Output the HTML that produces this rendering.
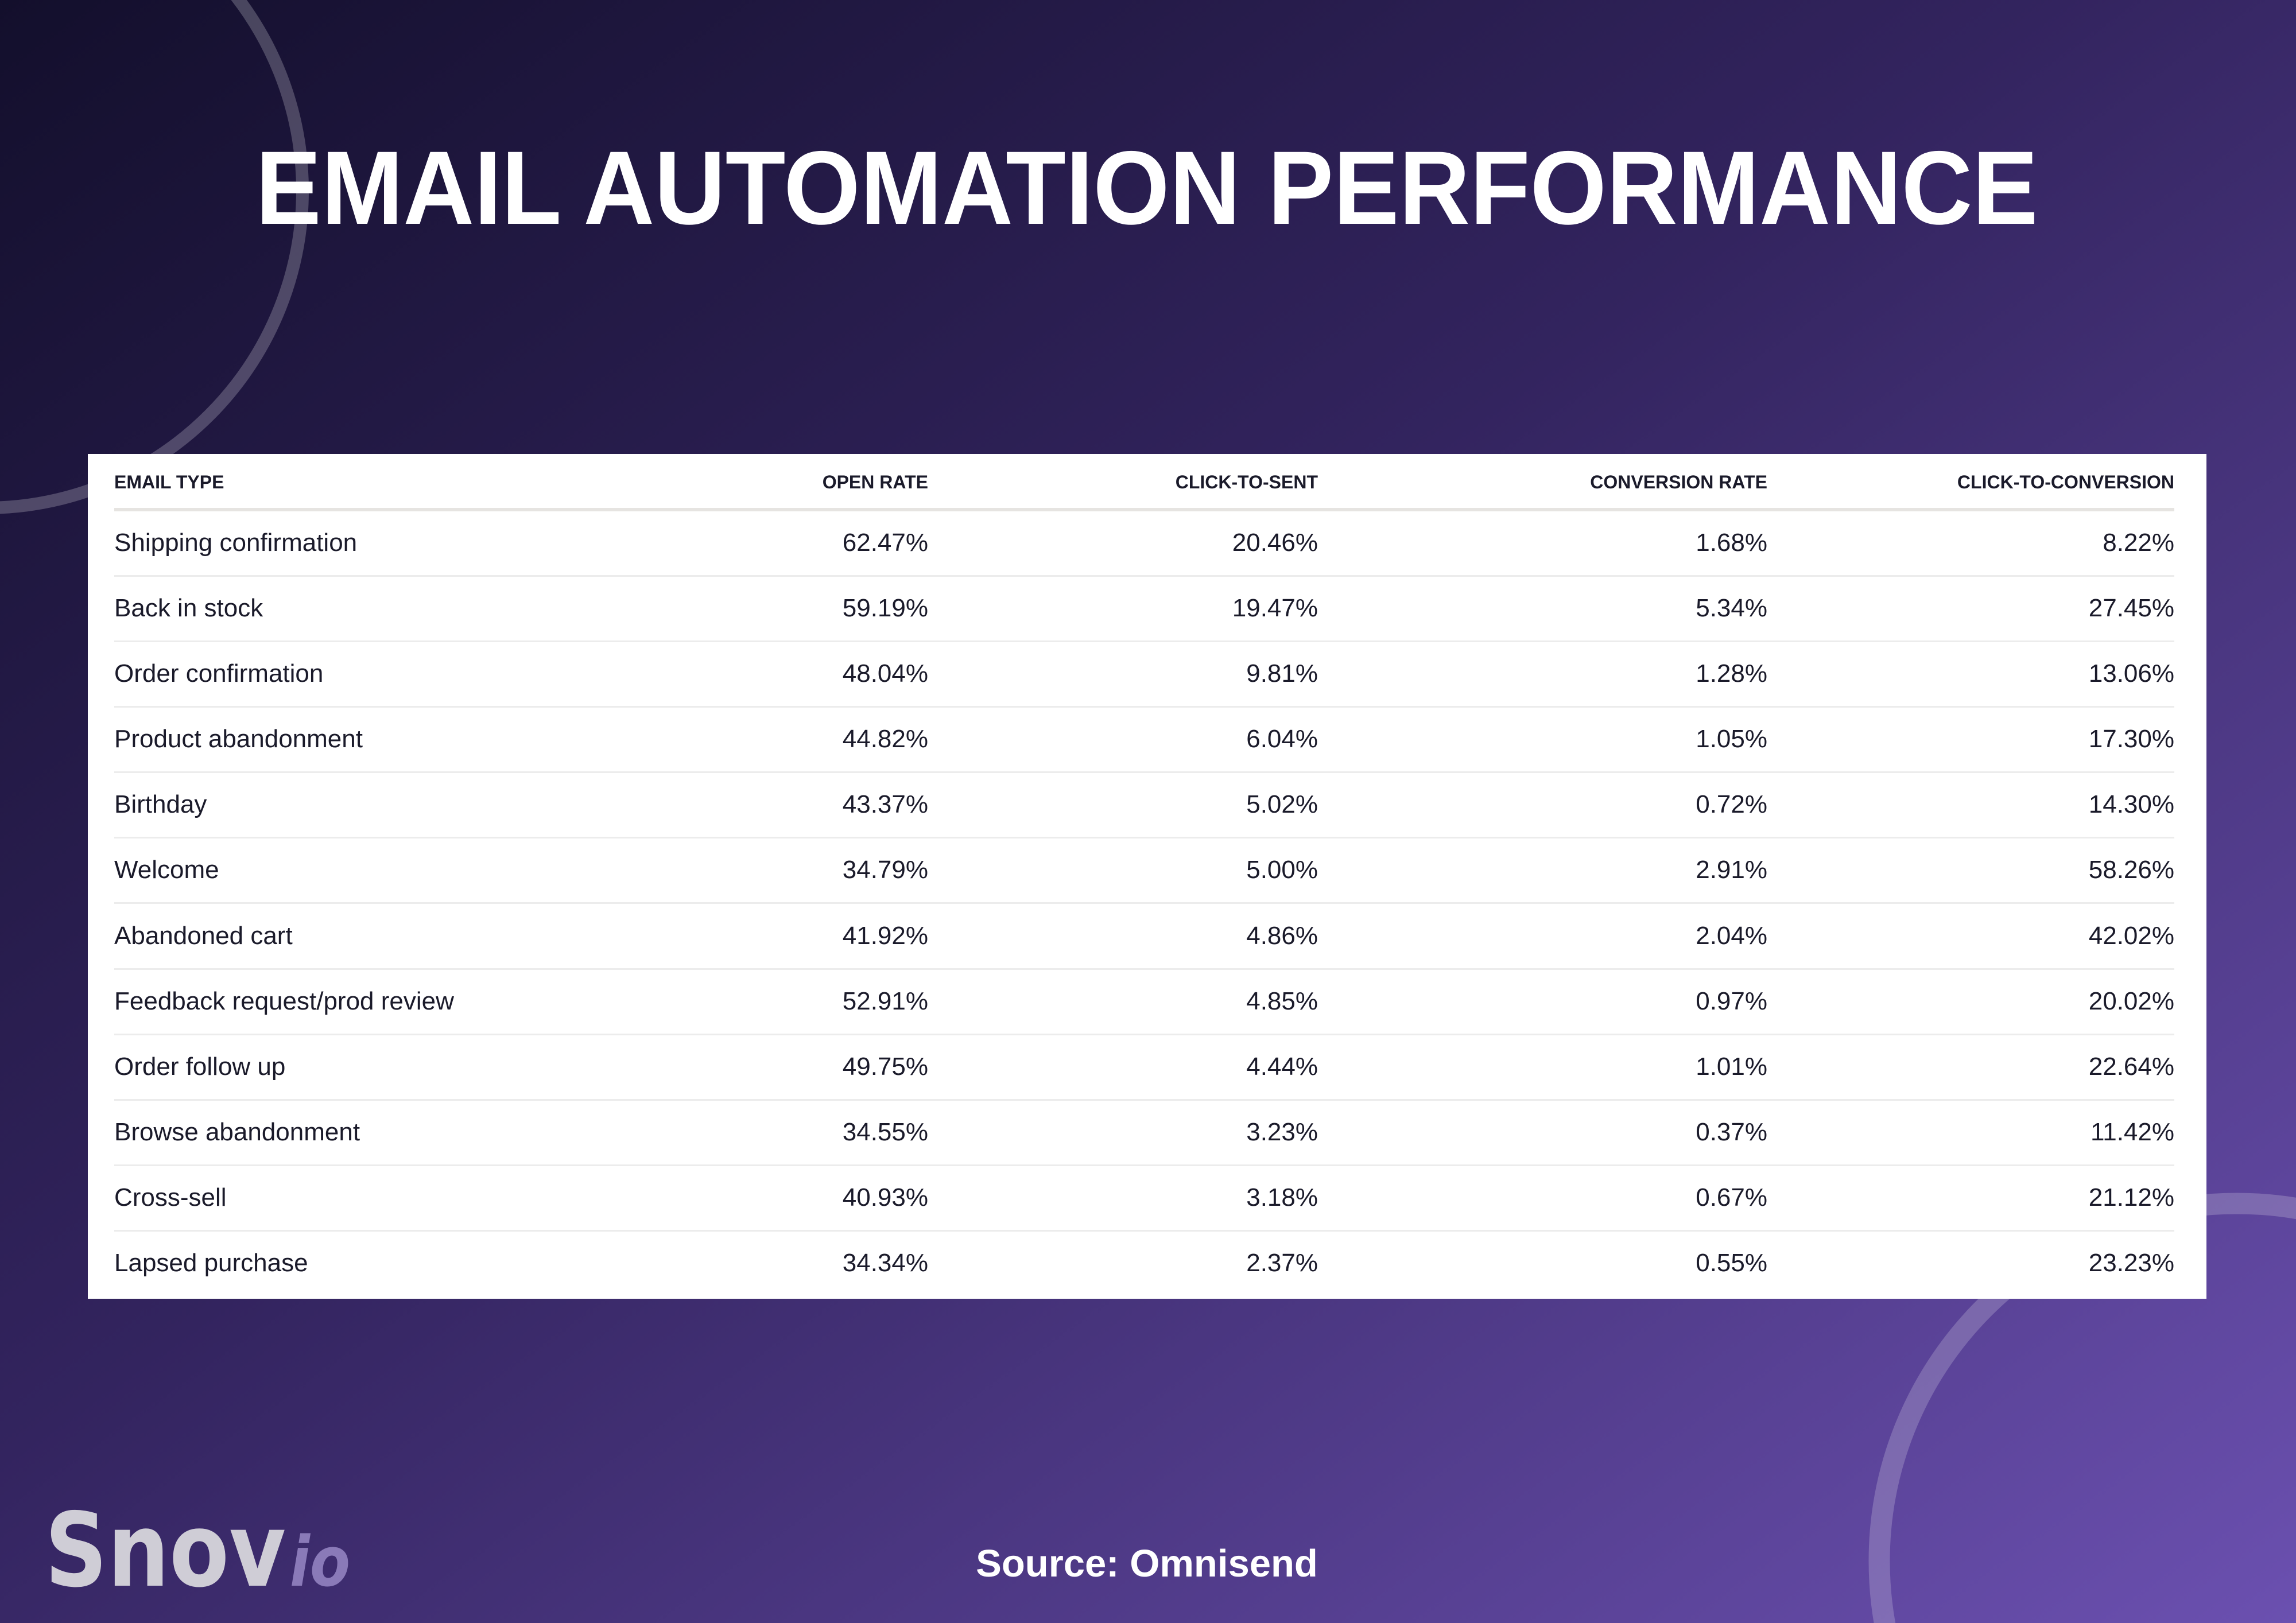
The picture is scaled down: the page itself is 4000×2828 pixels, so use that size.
<!DOCTYPE html>
<html><head><meta charset="utf-8"><style>
html,body{margin:0;padding:0;width:4000px;height:2828px;overflow:hidden;position:relative}
svg{display:block;position:absolute;top:0;left:0}
</style></head><body>
<svg width="4000" height="2828" viewBox="0 0 4000 2828" xmlns="http://www.w3.org/2000/svg" overflow="hidden">
<defs>
<linearGradient id="bg" x1="0" y1="0" x2="1" y2="1">
<stop offset="0" stop-color="#130f2c"/>
<stop offset="0.45" stop-color="#33245f"/>
<stop offset="1" stop-color="#6b50b0"/>
</linearGradient>
</defs>
<rect width="4000" height="2828" fill="url(#bg)"/>
<circle cx="-26" cy="332" r="553" fill="none" stroke="rgba(255,255,255,0.22)" stroke-width="22"/>
<circle cx="3897" cy="2720" r="623" fill="none" stroke="rgba(255,255,255,0.2)" stroke-width="37"/>
<text x="1998" y="390" text-anchor="middle" font-family="Liberation Sans, sans-serif" font-weight="bold" font-size="182" fill="#fff" textLength="3105" lengthAdjust="spacingAndGlyphs">EMAIL AUTOMATION PERFORMANCE</text>
<rect x="153" y="791" width="3691" height="1472" fill="#fff"/>
<g font-family="Liberation Sans, sans-serif" font-weight="bold" font-size="32" fill="#1a1a2a">
<text x="199" y="851">EMAIL TYPE</text>
<text x="1617" y="851" text-anchor="end">OPEN RATE</text>
<text x="2296" y="851" text-anchor="end">CLICK-TO-SENT</text>
<text x="3079" y="851" text-anchor="end">CONVERSION RATE</text>
<text x="3788" y="851" text-anchor="end">CLICK-TO-CONVERSION</text>
</g>
<rect x="199" y="885" width="3589" height="6" fill="#e6e4e1"/>
<g fill="#ececec">
<rect x="199" y="1002" width="3589" height="3"/>
<rect x="199" y="1116" width="3589" height="3"/>
<rect x="199" y="1230" width="3589" height="3"/>
<rect x="199" y="1344" width="3589" height="3"/>
<rect x="199" y="1458" width="3589" height="3"/>
<rect x="199" y="1572" width="3589" height="3"/>
<rect x="199" y="1687" width="3589" height="3"/>
<rect x="199" y="1801" width="3589" height="3"/>
<rect x="199" y="1915" width="3589" height="3"/>
<rect x="199" y="2029" width="3589" height="3"/>
<rect x="199" y="2143" width="3589" height="3"/>
</g>
<g font-family="Liberation Sans, sans-serif" font-size="44" fill="#1a1a2a">
<g transform="translate(0,960)"><text x="199">Shipping confirmation</text><text x="1617" text-anchor="end">62.47%</text><text x="2296" text-anchor="end">20.46%</text><text x="3079" text-anchor="end">1.68%</text><text x="3788" text-anchor="end">8.22%</text></g>
<g transform="translate(0,1074)"><text x="199">Back in stock</text><text x="1617" text-anchor="end">59.19%</text><text x="2296" text-anchor="end">19.47%</text><text x="3079" text-anchor="end">5.34%</text><text x="3788" text-anchor="end">27.45%</text></g>
<g transform="translate(0,1188)"><text x="199">Order confirmation</text><text x="1617" text-anchor="end">48.04%</text><text x="2296" text-anchor="end">9.81%</text><text x="3079" text-anchor="end">1.28%</text><text x="3788" text-anchor="end">13.06%</text></g>
<g transform="translate(0,1302)"><text x="199">Product abandonment</text><text x="1617" text-anchor="end">44.82%</text><text x="2296" text-anchor="end">6.04%</text><text x="3079" text-anchor="end">1.05%</text><text x="3788" text-anchor="end">17.30%</text></g>
<g transform="translate(0,1416)"><text x="199">Birthday</text><text x="1617" text-anchor="end">43.37%</text><text x="2296" text-anchor="end">5.02%</text><text x="3079" text-anchor="end">0.72%</text><text x="3788" text-anchor="end">14.30%</text></g>
<g transform="translate(0,1530)"><text x="199">Welcome</text><text x="1617" text-anchor="end">34.79%</text><text x="2296" text-anchor="end">5.00%</text><text x="3079" text-anchor="end">2.91%</text><text x="3788" text-anchor="end">58.26%</text></g>
<g transform="translate(0,1645)"><text x="199">Abandoned cart</text><text x="1617" text-anchor="end">41.92%</text><text x="2296" text-anchor="end">4.86%</text><text x="3079" text-anchor="end">2.04%</text><text x="3788" text-anchor="end">42.02%</text></g>
<g transform="translate(0,1759)"><text x="199">Feedback request/prod review</text><text x="1617" text-anchor="end">52.91%</text><text x="2296" text-anchor="end">4.85%</text><text x="3079" text-anchor="end">0.97%</text><text x="3788" text-anchor="end">20.02%</text></g>
<g transform="translate(0,1873)"><text x="199">Order follow up</text><text x="1617" text-anchor="end">49.75%</text><text x="2296" text-anchor="end">4.44%</text><text x="3079" text-anchor="end">1.01%</text><text x="3788" text-anchor="end">22.64%</text></g>
<g transform="translate(0,1987)"><text x="199">Browse abandonment</text><text x="1617" text-anchor="end">34.55%</text><text x="2296" text-anchor="end">3.23%</text><text x="3079" text-anchor="end">0.37%</text><text x="3788" text-anchor="end">11.42%</text></g>
<g transform="translate(0,2101)"><text x="199">Cross-sell</text><text x="1617" text-anchor="end">40.93%</text><text x="2296" text-anchor="end">3.18%</text><text x="3079" text-anchor="end">0.67%</text><text x="3788" text-anchor="end">21.12%</text></g>
<g transform="translate(0,2215)"><text x="199">Lapsed purchase</text><text x="1617" text-anchor="end">34.34%</text><text x="2296" text-anchor="end">2.37%</text><text x="3079" text-anchor="end">0.55%</text><text x="3788" text-anchor="end">23.23%</text></g>
</g>
<text x="78" y="2763" font-family="DejaVu Sans, sans-serif" font-weight="bold" font-size="178" fill="#cfcdd6" textLength="420" lengthAdjust="spacingAndGlyphs">Snov</text>
<text x="505" y="2763" font-family="DejaVu Sans, sans-serif" font-weight="bold" font-style="italic" font-size="120" fill="#8a7ab8" textLength="105" lengthAdjust="spacingAndGlyphs">io</text>
<text x="1998" y="2747" text-anchor="middle" font-family="Liberation Sans, sans-serif" font-weight="bold" font-size="67" fill="#fff">Source: Omnisend</text>
</svg>
</body></html>
